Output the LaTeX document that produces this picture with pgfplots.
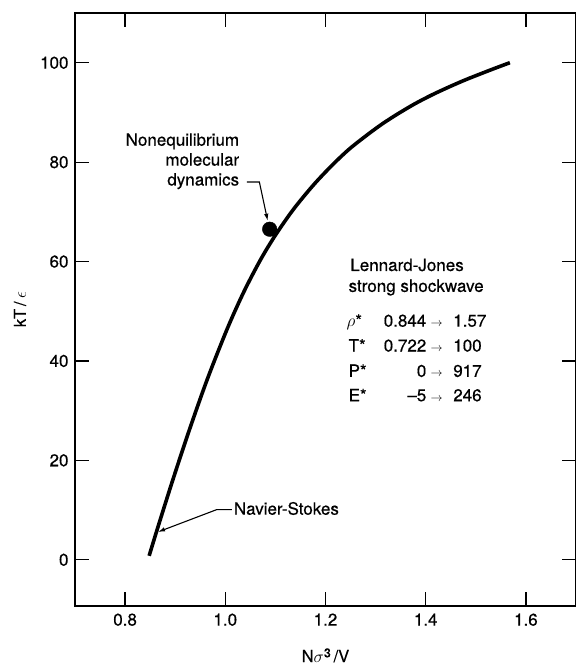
\documentclass[border=0pt]{standalone}
\usepackage{fontspec}
\setmainfont{TeX Gyre Heros}[FakeBold=0.5]
\usepackage{pgfplots}
\pgfplotsset{compat=1.18}
\usetikzlibrary{arrows.meta}
\begin{document}
\begin{tikzpicture}
\begin{axis}[
  scale only axis, width=501pt, height=593pt,
  xmin=0.7, xmax=1.7, ymin=-9.3, ymax=110,
  xtick={0.8,1.0,1.2,1.4,1.6}, ytick={0,20,40,60,80,100},
  xticklabels={0.8,1.0,1.2,1.4,1.6},
  xtick pos=both, ytick pos=both,
  xticklabel pos=lower, yticklabel pos=left,
  tick align=inside, major tick length=14pt,
  axis line style={line width=1.3pt},
  every tick/.style={line width=1.2pt, black},
  tick label style={font=\fontsize{17}{17}\selectfont},
  /pgf/number format/assume math mode=true,
  xticklabel style={yshift=-4pt},
  yticklabel style={xshift=-3pt},
  xlabel={N$\sigma$\raisebox{0.55ex}{\fontsize{12.5}{12.5}\selectfont 3}\,/V}, ylabel={kT\,/\,$\epsilon$},
  label style={font=\fontsize{16.5}{16.5}\selectfont},
  xlabel style={at={(axis description cs:0.5,0)}, anchor=base, yshift=-56pt},
  ylabel style={at={(axis description cs:-0.1098,0.5)}, anchor=center},
]
\addplot[black, line width=3.6pt, smooth, tension=0.5] coordinates {
(0.848,0.8) (0.864,6.08) (0.894,15.68) (0.927,25.75) (0.964,36.3) (1.004,46.5)
(1.037,53.9) (1.070,60.3) (1.100,65.3) (1.136,70.5) (1.176,75.4) (1.2125,79.3)
(1.246,82.5) (1.279,85.15) (1.312,87.6) (1.345,89.75) (1.379,91.77) (1.412,93.5)
(1.445,95.05) (1.478,96.5) (1.511,97.82) (1.540,98.95) (1.568,100)
};
\addplot[only marks, mark=*, mark size=7.3pt, black] coordinates {(1.0886,66.5)};

\begin{scope}[font=\fontsize{17}{20}\selectfont, inner sep=0pt]
\node[anchor=base east] at (axis cs:1.028,83.3) {Nonequilibrium};
\node[anchor=base east] at (axis cs:1.028,79.3) {molecular};
\node[anchor=base east] at (axis cs:1.028,75.3) {dynamics};
\node[anchor=base west] at (axis cs:1.0169,9.07) {Navier-Stokes};

\node[anchor=base west] at (axis cs:1.2492,58.1) {Lennard-Jones};
\node[anchor=base west] at (axis cs:1.2458,53.9) {strong shockwave};

\node[anchor=base west] at (axis cs:1.2418,46.9) {$\rho$*};
\node[anchor=base west] at (axis cs:1.2458,41.9) {T*};
\node[anchor=base west] at (axis cs:1.2458,36.8) {P*};
\node[anchor=base west] at (axis cs:1.2458,31.9) {E*};

\node[anchor=base east] at (axis cs:1.4016,46.9) {0.844};
\node[anchor=base east] at (axis cs:1.4016,41.9) {0.722};
\node[anchor=base east] at (axis cs:1.4016,36.8) {0};
\node[anchor=base east] at (axis cs:1.4016,31.9) {--5};

\node[anchor=base west] at (axis cs:1.4547,46.9) {1.57};
\node[anchor=base west] at (axis cs:1.4547,41.9) {100};
\node[anchor=base west] at (axis cs:1.4547,36.8) {917};
\node[anchor=base west] at (axis cs:1.4547,31.9) {246};
\end{scope}
\begin{scope}[font=\fontsize{13}{13}\selectfont, inner sep=0pt]
\node[anchor=base] at (axis cs:1.4216,46.9) {$\rightarrow$};
\node[anchor=base] at (axis cs:1.4216,41.9) {$\rightarrow$};
\node[anchor=base] at (axis cs:1.4216,36.8) {$\rightarrow$};
\node[anchor=base] at (axis cs:1.4216,31.9) {$\rightarrow$};
\end{scope}

\draw[line width=1.1pt, -{Latex[length=7pt,width=4.5pt]}] (axis cs:1.043,76.0) -- (axis cs:1.068,76.0) -- (axis cs:1.0846,68.2);
\draw[line width=1.1pt, -{Latex[length=7pt,width=4.5pt]}] (axis cs:1.0129,10.1) -- (axis cs:0.9831,10.1) -- (axis cs:0.8657,5.6);
\end{axis}
\pgfresetboundingbox
\path[use as bounding box] ([shift={(-75pt,-59pt)}]current axis.south west) rectangle ([shift={(0pt,13pt)}]current axis.north east);
\end{tikzpicture}
\end{document}
